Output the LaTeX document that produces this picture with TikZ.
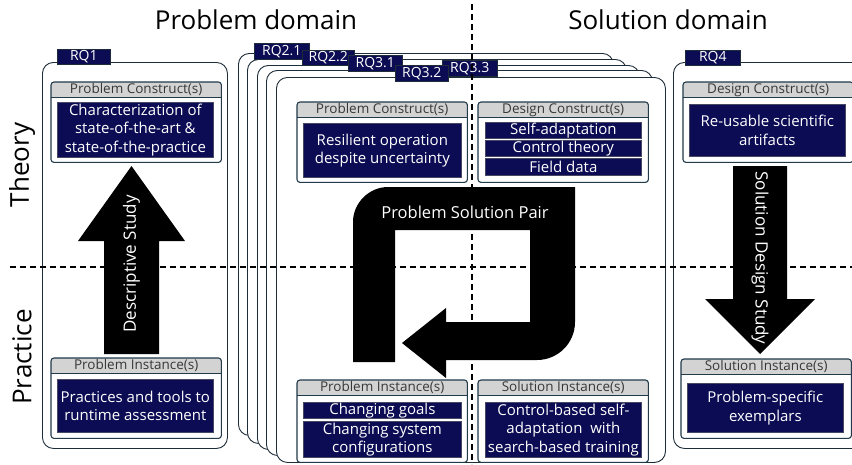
\documentclass[tikz,border=0pt]{standalone}
\usepackage{fontspec}
\setmainfont{Open Sans}

\definecolor{navyfill}{RGB}{12,12,84}
\definecolor{navyedge}{RGB}{70,72,100}
\definecolor{cardline}{RGB}{32,58,74}
\definecolor{headgray}{RGB}{211,211,211}
\definecolor{headink}{RGB}{55,55,55}
\definecolor{frameline}{RGB}{30,45,58}

\tikzset{
  panel/.style={draw=frameline, line width=0.9pt, fill=white, rounded corners=11pt,
    anchor=north west, inner sep=0pt},
  rqtab/.style={draw=frameline, line width=0.6pt, fill=navyfill, text=white,
    anchor=north west, inner sep=0pt, minimum height=15pt,
    font=\fontsize{14}{14}\selectfont},
  cardbody/.style={fill=white, anchor=north west, inner sep=0pt, minimum width=170pt},
  cardhead/.style={fill=headgray, text=headink, anchor=north west, inner sep=0pt,
    minimum width=170pt, minimum height=15pt, font=\fontsize{13.5}{14}\selectfont},
  cardedge/.style={draw=cardline, line width=1.1pt},
  navybox/.style={draw=navyedge, line width=0.7pt, fill=navyfill, text=white,
    anchor=north west, inner sep=0pt, align=center,
    font=\fontsize{15}{18.5}\selectfont},
  divider/.style={draw=black, line width=1.2pt, dash pattern=on 6pt off 4pt},
  bigarrow/.style={fill=black},
  arrowtext/.style={text=white, font=\fontsize{17}{18}\selectfont, inner sep=0pt},
  axislabel/.style={font=\fontsize{26}{28}\selectfont, inner sep=0pt},
  domainlabel/.style={font=\fontsize{26}{28}\selectfont, inner sep=0pt},
}

% construct / instance card: name, x, y, height, header title
\newcommand\mkcard[5]{%
  \node[cardbody, minimum height=#4pt] (#1) at (#2,#3) {};
  \begin{scope}
    \clip[rounded corners=3pt] (#1.north west) rectangle (#1.south east);
    \node[cardhead] (#1-head) at (#1.north west) {#5};
  \end{scope}
  \draw[cardedge] (#1-head.south west) -- (#1-head.south east);
  \draw[cardedge, rounded corners=3pt] (#1.north west) rectangle (#1.south east);
}

\begin{document}
\begin{tikzpicture}[x=1pt, y=-1pt]
\useasboundingbox (0,0) rectangle (852,464);
\clip (0,0) rectangle (852,464);
\fill[white] (0,0) rectangle (852,464);

% ---- domain titles and axis labels
\node[domainlabel] (probdomain) at (256,20) {Problem domain};
\node[domainlabel] (soldomain) at (668,20) {Solution domain};
\node[axislabel, rotate=90] (theory) at (22,165) {Theory};
\node[axislabel, rotate=90] (practice) at (22,357) {Practice};

% ---- research-question panels
\node[panel, minimum width=185pt, minimum height=386pt] (rq1panel) at (42,62) {};

\node[panel, minimum width=375pt, minimum height=382pt] (pa) at (238,53) {};
\node[panel, minimum width=379pt, minimum height=384pt] (pb) at (247,59) {};
\node[panel, minimum width=382pt, minimum height=384pt] (pc) at (257,65) {};
\node[panel, minimum width=386pt, minimum height=385pt] (pd) at (266,70) {};
\node[panel, minimum width=389pt, minimum height=385pt] (pe) at (276,77) {};

\node[panel, minimum width=210pt, minimum height=386pt] (rq4panel) at (673,62) {};

% ---- tabs
\node[rqtab, minimum width=53pt] (tab1) at (57,49) {RQ1};
\node[rqtab, minimum width=55pt, minimum height=16pt] (tab21) at (254,43) {RQ2.1};
\node[rqtab, minimum width=52pt] (tab22) at (302,50) {RQ2.2};
\node[rqtab, minimum width=54pt, minimum height=16pt] (tab31) at (348,55) {RQ3.1};
\node[rqtab, minimum width=55pt, minimum height=16pt] (tab33) at (442,60) {RQ3.3};
\node[rqtab, minimum width=53pt, minimum height=16pt] (tab32) at (395,65) {RQ3.2};
\node[rqtab, minimum width=55pt] (tab4) at (685,50) {RQ4};

% ---- theory / practice and problem / solution dividers
\draw[divider] (10,267) -- (852,267);
\draw[divider] (472,4) -- (472,464);

% ---- RQ1 cards
\mkcard{pcLeft}{51}{82}{80}{Problem Construct(s)}
\node[navybox, minimum width=156pt, minimum height=55pt] (pcLeftText) at (57,102)
  {Characterization of\\state-of-the-art \&\\state-of-the-practice};
\mkcard{piLeft}{51}{358}{80}{Problem Instance(s)}
\node[navybox, minimum width=156pt, minimum height=53pt] (piLeftText) at (57,379)
  {Practices and tools to\\runtime assessment};

% ---- RQ2/RQ3 cards
\mkcard{pcMid}{297}{102}{80}{Problem Construct(s)}
\node[navybox, minimum width=158pt, minimum height=54pt] (pcMidText) at (303,123)
  {Resilient operation\\despite uncertainty};
\mkcard{dcMid}{478}{102}{80}{Design Construct(s)}
\node[navybox, minimum width=156pt, minimum height=16pt] (dcA) at (485,122) {Self-adaptation};
\node[navybox, minimum width=156pt, minimum height=16pt] (dcB) at (485,140) {Control theory};
\node[navybox, minimum width=156pt, minimum height=16.5pt] (dcC) at (485,158) {Field data};
\mkcard{piMid}{297}{380}{82}{Problem Instance(s)}
\node[navybox, minimum width=158pt, minimum height=16pt] (piA) at (303,402) {Changing goals};
\node[navybox, minimum width=158pt, minimum height=36pt] (piB) at (303,421)
  {Changing system\\configurations};
\mkcard{siMid}{478}{380}{82}{Solution Instance(s)}
\node[navybox, minimum width=156pt, minimum height=55pt] (siMidText) at (485,402)
  {Control-based self-\\adaptation\ \ with\\search-based training};

% ---- RQ4 cards
\mkcard{dcRight}{683}{82}{80}{Design Construct(s)}
\node[navybox, minimum width=156pt, minimum height=52pt] (dcRightText) at (689,104)
  {Re-usable scientific\\artifacts};
\mkcard{siRight}{681}{359}{79}{Solution Instance(s)}
\node[navybox, minimum width=156pt, minimum height=49pt] (siRightText) at (687,383)
  {Problem-specific\\exemplars};

% ---- descriptive study (up arrow)
\fill[bigarrow] (104,354) -- (159,354) -- (159,241) -- (185,241) -- (131.5,166)
  -- (78,241) -- (104,241) -- cycle;
\node[arrowtext, rotate=90] (descstudy) at (131.5,264) {Descriptive Study};

% ---- solution design study (down arrow)
\fill[bigarrow] (733,166) -- (787,166) -- (787,299) -- (815,299) -- (760,354)
  -- (705,299) -- (733,299) -- cycle;
\node[arrowtext, rotate=-90] (designstudy) at (760,258) {Solution Design Study};

% ---- problem solution pair (U-turn arrow)
\fill[bigarrow] (395,362) -- (353,362) -- (353,222)
  .. controls (353,203) and (369,187) .. (388,187)
  -- (575,187) -- (575,322)
  .. controls (575,343) and (558,360) .. (537,360)
  -- (446,360) -- (446,378) -- (402,343) -- (446,308) -- (446,322)
  -- (530,322) -- (530,230) -- (395,230) -- cycle;
\node[arrowtext, font=\fontsize{16.5}{18}\selectfont] (pairlabel) at (465,212) {Problem Solution Pair};

\end{tikzpicture}
\end{document}
